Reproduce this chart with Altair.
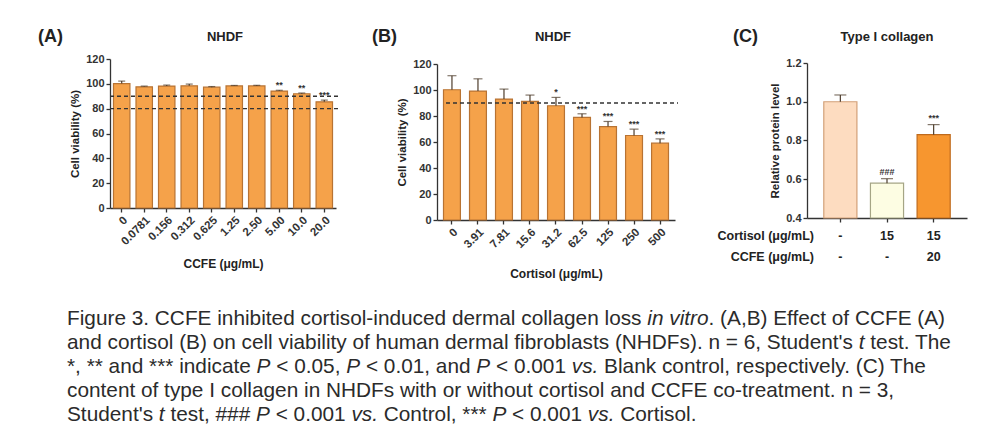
import altair as alt
import pandas as pd

FONT = "Liberation Sans, Arial, Helvetica, sans-serif"
INK = "#333333"
BAR_FILL = "#f5a24a"
BAR_EDGE = "#b87333"
ERR_INK = "#4e3d2c"

# ---- (A) NHDF viability under CCFE ----
ccfe_doses = ["0", "0.0781", "0.156", "0.312", "0.625", "1.25", "2.50", "5.00", "10.0", "20.0"]
ccfe_viability = [100.2, 97.6, 98.2, 98.4, 97.3, 98.3, 98.3, 94.2, 92.0, 85.5]
ccfe_sd = [2.0, 0.5, 0.8, 1.4, 0.5, 0.4, 0.5, 0.6, 0.6, 1.4]
ccfe_sig = ["", "", "", "", "", "", "", "**", "**", "***"]
ccfe_cutoffs = [90, 80]

# ---- (B) NHDF viability under cortisol ----
cortisol_doses = ["0", "3.91", "7.81", "15.6", "31.2", "62.5", "125", "250", "500"]
cortisol_viability = [100.2, 99.2, 93.0, 91.2, 87.9, 78.9, 71.9, 65.0, 59.1]
cortisol_sd = [10.8, 9.4, 7.7, 4.9, 6.4, 2.8, 3.9, 4.9, 3.3]
cortisol_sig = ["", "", "", "", "*", "***", "***", "***", "***"]
cortisol_cutoffs = [90]

# ---- (C) type I collagen protein level ----
collagen_groups = ["Control", "Cortisol", "Cortisol + CCFE"]
collagen_level = [1.00, 0.58, 0.83]
collagen_sd = [0.035, 0.023, 0.052]
collagen_sig = ["", "###", "***"]
collagen_cortisol = ["-", "15", "15"]
collagen_ccfe = ["-", "-", "20"]
collagen_fill = ["#fddcc0", "#fdfde3", "#f7962f"]
collagen_edge = ["#d2a078", "#a5a585", "#bf6a1c"]

viability_ticks = [0, 20, 40, 60, 80, 100, 120]
collagen_ticks = [0.4, 0.6, 0.8, 1.0, 1.2]

# Figure legend: each line is a list of (text, italic) runs
caption_lines = [
    [("Figure 3. CCFE inhibited cortisol-induced dermal collagen loss ", False),
     ("in vitro", True), (". (A,B) Effect of CCFE (A)", False)],
    [("and cortisol (B) on cell viability of human dermal fibroblasts (NHDFs). n = 6, Student's ", False),
     ("t ", True), ("test. The", False)],
    [("*, ** and *** indicate ", False), ("P ", True), ("< 0.05, ", False),
     ("P ", True), ("< 0.01, and ", False), ("P ", True), ("< 0.001 ", False),
     ("vs. ", True), ("Blank control, respectively. (C) The", False)],
    [("content of type I collagen in NHDFs with or without cortisol and CCFE co-treatment. n = 3,", False)],
    [("Student's ", False), ("t ", True), ("test, ### ", False), ("P ", True),
     ("< 0.001 ", False), ("vs. ", True), ("Control, *** ", False), ("P ", True),
     ("< 0.001 ", False), ("vs. ", True), ("Cortisol.", False)],
]
caption_line_y = [319, 343, 367, 391, 415]
CAPTION_X = 67
CAPTION_SIZE = 20.8

# Advance widths (1/1000 em) of the Arial-metric sans face, used to chain runs
_W = {" ": 278, "!": 278, "#": 556, "%": 889, "'": 191, "(": 333, ")": 333, "*": 389,
      ",": 278, "-": 333, ".": 278, "/": 278, ":": 278, "<": 584, "=": 584, ">": 584}
_W.update({d: 556 for d in "0123456789"})
_W.update(dict(zip("ABCDEFGHIJKLMNOPQRSTUVWXYZ",
                   [667, 667, 722, 722, 667, 611, 778, 722, 278, 500, 667, 556, 833,
                    722, 778, 667, 778, 722, 667, 611, 722, 667, 944, 667, 667, 611])))
_W.update(dict(zip("abcdefghijklmnopqrstuvwxyz",
                   [556, 556, 500, 556, 556, 278, 556, 556, 222, 222, 500, 222, 833,
                    556, 556, 556, 556, 333, 500, 278, 556, 500, 722, 500, 500, 500])))


def text_width(s, size):
    return sum(_W.get(ch, 556) for ch in s) * size / 1000.0


ORIGIN_X, ORIGIN_Y = 110, 59  # top-left of panel A's plot area on the page


def label(text, x, y, size, weight="bold", align="left", color="#222222"):
    return alt.Chart(pd.DataFrame({"t": [text]})).mark_text(
        font=FONT, fontSize=size, fontWeight=weight, align=align,
        baseline="middle", color=color,
    ).encode(x=alt.value(x), y=alt.value(y), text="t:N")


def viability_panel(doses, means, sds, sig, cutoffs, band_width, height, y_range,
                    pad_in, pad_out, x_title, letter, letter_x, title_x,
                    cut_x0, cap, title_pad):
    df = pd.DataFrame({
        "dose": doses, "mean": means,
        "top": [m + s for m, s in zip(means, sds)], "sig": sig,
    })
    x = alt.X("dose:N", sort=doses,
              scale=alt.Scale(paddingInner=pad_in, paddingOuter=pad_out, range=[0, band_width]),
              axis=alt.Axis(title=x_title, labelAngle=-45, labelAlign="right",
                            labelBaseline="top", labelFontSize=11.5, labelPadding=2,
                            titlePadding=title_pad, tickSize=4, titleFontSize=12))
    yscale = alt.Scale(domain=[0, 120], range=y_range, nice=False)
    yaxis = alt.Axis(title="Cell viability (%)", values=viability_ticks,
                     tickSize=4, titlePadding=5)

    def Y(field):
        return alt.Y(field, scale=yscale, axis=yaxis)

    base = alt.Chart(df)
    bars = base.mark_bar(fill=BAR_FILL, stroke=BAR_EDGE, strokeWidth=1.2).encode(
        x=x, y=Y("mean:Q"))
    err = base.mark_rule(color=ERR_INK, strokeWidth=1.2).encode(
        x=x, y=Y("mean:Q"), y2="top:Q")
    caps = base.mark_tick(color=ERR_INK, size=cap, thickness=1.2, orient="horizontal").encode(
        x=x, y=Y("top:Q"))
    stars = base.mark_text(font=FONT, fontSize=9, fontWeight="bold", color=INK,
                           baseline="alphabetic", dy=-2).encode(
        x=x, y=Y("top:Q"), text="sig:N")
    cuts = alt.Chart(pd.DataFrame({"level": cutoffs})).mark_rule(
        color=INK, strokeWidth=1.4, strokeDash=[4, 3]).encode(
        y=Y("level:Q"), x=alt.value(cut_x0), x2=alt.value(band_width + 3))
    return [bars, err, caps, cuts, stars,
            label(letter, letter_x, -22, 18),
            label("NHDF", title_x, -22, 13, align="center")]


# Panel A
a_layers = viability_panel(ccfe_doses, ccfe_viability, ccfe_sd, ccfe_sig, ccfe_cutoffs,
                           226, 149, [149, 0], 0.27, 0.155, "CCFE (μg/mL)",
                           "(A)", -72, 115, 0, 7, 11)

# Legend text lives in panel A's layer, offset from its plot origin;
# each run starts where the previous run's advance width ends.
for runs, yline in zip(caption_lines, caption_line_y):
    xpos = CAPTION_X
    for text, italic in runs:
        a_layers.append(alt.Chart(pd.DataFrame({"t": [text]})).mark_text(
            font=FONT, fontSize=CAPTION_SIZE, fontStyle="italic" if italic else "normal",
            align="left", baseline="middle", color="#2b2b2b",
        ).encode(x=alt.value(round(xpos - ORIGIN_X, 2)), y=alt.value(yline - ORIGIN_Y),
                 text="t:N"))
        xpos += text_width(text, CAPTION_SIZE)

panel_a = alt.layer(*a_layers).properties(width=226, height=149)

# Panel B: plot box is wider than its band range so the gap to panel C is larger
b_layers = viability_panel(cortisol_doses, cortisol_viability, cortisol_sd, cortisol_sig,
                           cortisol_cutoffs, 238, 161, [161, 5], 0.35, 0.25,
                           "Cortisol (μg/mL)", "(B)", -65, 116, 9, 9, 19)
panel_b = alt.layer(*b_layers).properties(width=269, height=161)

# Panel C
cdf = pd.DataFrame({
    "group": collagen_groups, "level": collagen_level,
    "top": [m + s for m, s in zip(collagen_level, collagen_sd)],
    "sig": collagen_sig, "cortisol": collagen_cortisol, "ccfe": collagen_ccfe,
})
cx = alt.X("group:N", sort=collagen_groups,
           scale=alt.Scale(paddingInner=0.29, paddingOuter=0.36),
           axis=alt.Axis(title=None, labels=False, tickSize=4))
cscale = alt.Scale(domain=[0.4, 1.2], range=[159, 4], nice=False, zero=False)
caxis = alt.Axis(title="Relative protein level", values=collagen_ticks,
                 format=".1f", tickSize=4, titlePadding=5)


def CY(field):
    return alt.Y(field, scale=cscale, axis=caxis)


cbase = alt.Chart(cdf)
c_bars = cbase.mark_bar(strokeWidth=1.2).encode(
    x=cx,
    y=CY("level:Q"),
    y2=alt.datum(0.4),
    fill=alt.Fill("group:N", sort=collagen_groups,
                  scale=alt.Scale(domain=collagen_groups, range=collagen_fill), legend=None),
    stroke=alt.Stroke("group:N", sort=collagen_groups,
                      scale=alt.Scale(domain=collagen_groups, range=collagen_edge), legend=None),
)
c_err = cbase.mark_rule(color=ERR_INK, strokeWidth=1.2).encode(
    x=cx, y=CY("level:Q"), y2="top:Q")
c_caps = cbase.mark_tick(color=ERR_INK, size=12, thickness=1.2, orient="horizontal").encode(
    x=cx, y=CY("top:Q"))
c_sig = cbase.mark_text(font=FONT, fontSize=9, fontWeight="bold", color=INK,
                        baseline="alphabetic", dy=-4).encode(
    x=cx, y=CY("top:Q"), text="sig:N")
row_style = dict(font=FONT, fontSize=12.5, fontWeight="bold", color="#222222", baseline="middle")
c_row1 = cbase.mark_text(**row_style).encode(x=cx, y=alt.value(177), text="cortisol:N")
c_row2 = cbase.mark_text(**row_style).encode(x=cx, y=alt.value(198), text="ccfe:N")
panel_c = alt.layer(
    c_bars, c_err, c_caps, c_sig, c_row1, c_row2,
    label("Cortisol (μg/mL)", 7, 177, 12.5, align="right"),
    label("CCFE (μg/mL)", 7, 198, 12.5, align="right"),
    label("(C)", -74, -22, 18),
    label("Type I collagen", 80, -22, 13, align="center"),
).properties(width=160, height=159)

chart = alt.hconcat(
    panel_a, panel_b, panel_c, spacing=101, bounds="flush",
).properties(
    padding={"left": 38, "top": 28, "right": 10, "bottom": 10},
    background="#ffffff",
).configure_view(stroke=None).configure_axis(
    domainColor=INK, tickColor=INK, domainWidth=1.3, tickWidth=1.3,
    labelColor="#333333", labelFont=FONT, labelFontWeight="bold", labelFontSize=11,
    titleColor="#222222", titleFont=FONT, titleFontWeight="bold", titleFontSize=11.5,
    labelOverlap=False, grid=False,
)

chart.save("out.html", embed_options={"renderer": "svg", "actions": False})
